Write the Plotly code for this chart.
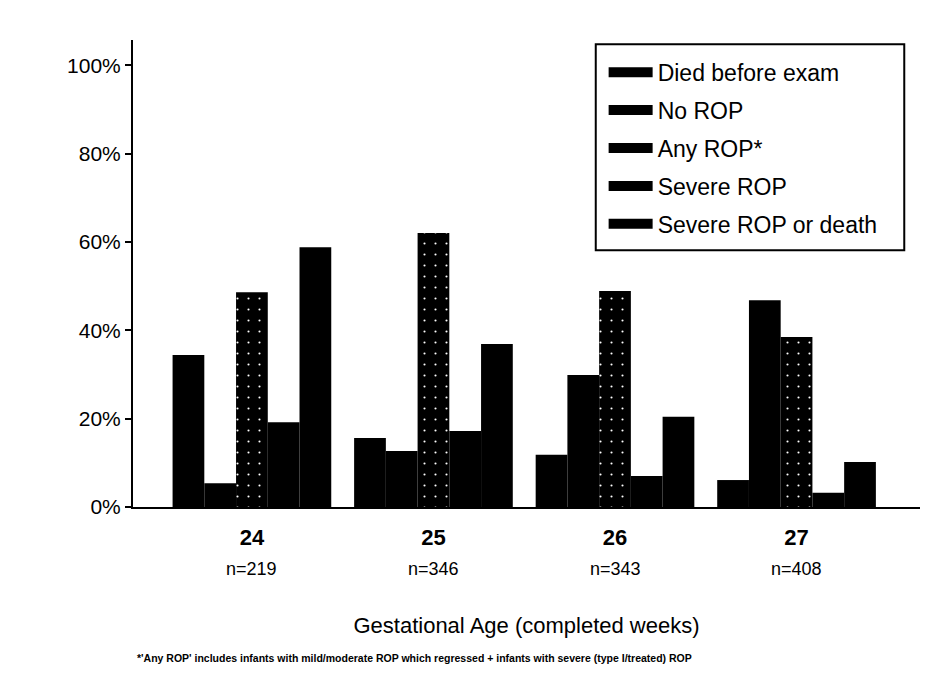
import plotly.graph_objects as go

ages = ["24", "25", "26", "27"]
n_labels = ["n=219", "n=346", "n=343", "n=408"]

died_before_exam = [34.4, 15.6, 11.8, 6.1]
no_rop = [5.4, 12.7, 29.9, 46.8]
any_rop = [48.6, 62.0, 48.9, 38.5]
severe_rop = [19.2, 17.2, 7.0, 3.2]
severe_rop_or_death = [58.8, 36.9, 20.4, 10.2]

series = [
    ("Died before exam", died_before_exam),
    ("No ROP", no_rop),
    ("Any ROP*", any_rop),
    ("Severe ROP", severe_rop),
    ("Severe ROP or death", severe_rop_or_death),
]

y_ticks = [0, 20, 40, 60, 80, 100]
y_ticktext = [f"{v}%" for v in y_ticks]

footnote = ("*'Any ROP' includes infants with mild/moderate ROP which regressed "
            "+ infants with severe (type I/treated) ROP")

FONT = "Liberation Sans, Arial, sans-serif"

fig = go.Figure()
for i, (name, vals) in enumerate(series):
    marker = dict(color="black", line=dict(width=0))
    if name == "Any ROP*":
        # scanned stipple on the "any ROP" bars
        marker["pattern"] = dict(shape=".", fillmode="replace", bgcolor="black",
                                 fgcolor="white", size=11, solidity=0.03)
    fig.add_trace(go.Bar(name=name, x=ages, y=vals, marker=marker, showlegend=False))
    # wide black legend swatch
    fig.add_trace(go.Scatter(
        name=name, x=[None], y=[None], mode="lines",
        line=dict(color="black", width=17),
        legendgroup=f"g{i}",
    ))

for i, lab in enumerate(n_labels):
    fig.add_annotation(
        x=i, y=0, xref="x", yref="paper", text=lab, showarrow=False,
        yanchor="top", yshift=-50, font=dict(size=18, family=FONT, color="black"),
    )

fig.add_annotation(
    x=0.003, y=-0.323, xref="paper", yref="paper", xanchor="left", yanchor="middle",
    text=f"<b>{footnote}</b>", showarrow=False,
    font=dict(size=10.5, family="Liberation Sans Narrow, Liberation Sans, sans-serif",
              color="black"),
)

# legend frame
fig.add_shape(type="rect", xref="paper", yref="paper",
              x0=0.588, x1=0.980, y0=0.550, y1=0.991,
              line=dict(color="black", width=2), fillcolor="white", layer="below")

# page body has an 8px margin, so margins are shifted to compensate
fig.update_layout(
    width=940, height=683,
    margin=dict(l=125, r=28, t=32, b=184),
    paper_bgcolor="white", plot_bgcolor="rgba(0,0,0,0)",
    barmode="group", bargap=0.126, bargroupgap=0,
    font=dict(family=FONT, color="black"),
    legend=dict(
        x=0.598, y=0.977, xanchor="left", yanchor="top",
        borderwidth=0, bgcolor="rgba(0,0,0,0)",
        font=dict(size=23, family=FONT, color="black"),
        tracegroupgap=5, itemwidth=44,
    ),
)
fig.update_xaxes(
    type="category", range=[-0.655, 3.68],
    showline=True, linecolor="black", linewidth=2,
    ticks="outside", ticklen=10, tickcolor="rgba(0,0,0,0)",
    tickfont=dict(size=22, family=FONT, color="black", weight="bold"),
    title=dict(text="Gestational Age (completed weeks)", standoff=68,
               font=dict(size=22, family=FONT, color="black")),
    showgrid=False, zeroline=False,
)
fig.update_yaxes(
    range=[0, 105.7],
    tickvals=y_ticks, ticktext=y_ticktext,
    showline=True, linecolor="black", linewidth=2,
    ticks="outside", ticklen=6, tickwidth=2, tickcolor="black",
    tickfont=dict(size=21, family=FONT, color="black"),
    showgrid=False, zeroline=False,
)

fig.write_html("out.html")
